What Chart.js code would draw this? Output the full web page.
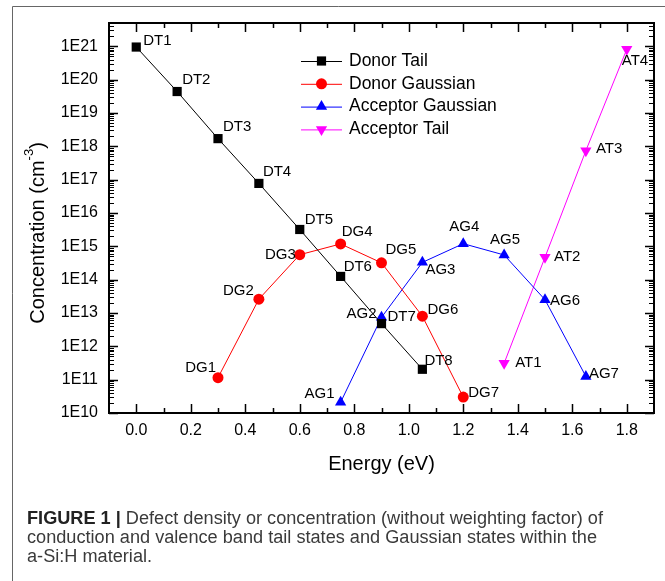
<!DOCTYPE html>
<html>
<head>
<meta charset="utf-8">
<title>Defect density</title>
<script src="https://cdn.jsdelivr.net/npm/chart.js@4.4.0/dist/chart.umd.min.js"></script>
<style>
  html, body { margin: 0; padding: 0; background: #fff; }
  #wrap { width: 665px; height: 581px; }
</style>
</head>
<body>
<div id="wrap"><canvas id="chart" width="665" height="581"></canvas></div>
<script>
// Energy positions (eV) and concentrations (cm^-3) for each state family
const donorTailEnergy = [0, 0.15, 0.3, 0.45, 0.6, 0.75, 0.9, 1.05];
const donorTail = [9.5e20, 4.4e19, 1.7e18, 7.7e16, 3.2e15, 1.25e14, 4.8e12, 2.05e11];
const donorTailLabels = ['DT1', 'DT2', 'DT3', 'DT4', 'DT5', 'DT6', 'DT7', 'DT8'];

const donorGaussEnergy = [0.3, 0.45, 0.6, 0.75, 0.9, 1.05, 1.2];
const donorGauss = [1.15e11, 2.6e13, 5.6e14, 1.18e15, 3.2e14, 8e12, 3e10];
const donorGaussLabels = ['DG1', 'DG2', 'DG3', 'DG4', 'DG5', 'DG6', 'DG7'];

const acceptorGaussEnergy = [0.75, 0.9, 1.05, 1.2, 1.35, 1.5, 1.65];
const acceptorGauss = [2.1e10, 7.4e12, 3.3e14, 1.2e15, 5.5e14, 2.5e13, 1.25e11];
const acceptorGaussLabels = ['AG1', 'AG2', 'AG3', 'AG4', 'AG5', 'AG6', 'AG7'];

const acceptorTailEnergy = [1.35, 1.5, 1.65, 1.8];
const acceptorTail = [3.1e11, 4.7e14, 7.4e17, 8.1e20];
const acceptorTailLabels = ['AT1', 'AT2', 'AT3', 'AT4'];

const seriesNames = ['Donor Tail', 'Donor Gaussian', 'Acceptor Gaussian', 'Acceptor Tail'];

const xTickValues = [0, 0.2, 0.4, 0.6, 0.8, 1.0, 1.2, 1.4, 1.6, 1.8];
const xTickLabels = ['0.0', '0.2', '0.4', '0.6', '0.8', '1.0', '1.2', '1.4', '1.6', '1.8'];
const xMinorValues = [0.1, 0.3, 0.5, 0.7, 0.9, 1.1, 1.3, 1.5, 1.7];
const yTickValues = [1e10, 1e11, 1e12, 1e13, 1e14, 1e15, 1e16, 1e17, 1e18, 1e19, 1e20, 1e21];
const yTickLabels = ['1E10', '1E11', '1E12', '1E13', '1E14', '1E15', '1E16', '1E17', '1E18', '1E19', '1E20', '1E21'];

// label offsets from the marker centre: [dx, dy, textAlign]
const labelPlacement = [
  [[7, -6, 'left'], [5, -12, 'left'], [5, -12, 'left'], [4, -12, 'left'], [5, -10, 'left'], [3, -10, 'left'], [6, -7, 'left'], [2, -8, 'left']],
  [[-2, -10, 'right'], [-5, -8, 'right'], [-4, 0, 'right'], [1, -12, 'left'], [4, -13, 'left'], [5, -6, 'left'], [5, -4, 'left']],
  [[-6, -8, 'right'], [-5, -3, 'right'], [3, 7, 'left'], [1, -17, 'center'], [1, -15, 'center'], [5, 1, 'left'], [3, -3, 'left']],
  [[11, 0, 'left'], [9, 0, 'left'], [10, -2, 'left'], [-5, 12, 'left']]
];
const pointLabels = [donorTailLabels, donorGaussLabels, acceptorGaussLabels, acceptorTailLabels];

const FONT = '"Liberation Sans", Arial, Helvetica, sans-serif';

function toPoints(xs, ys) {
  return xs.map((x, i) => ({ x, y: ys[i] }));
}

function series(label, xs, ys, color, style, rotation, radius) {
  return {
    label,
    data: toPoints(xs, ys),
    borderColor: color,
    backgroundColor: color,
    borderWidth: 1,
    pointStyle: style,
    pointRotation: rotation,
    pointRadius: radius,
    pointBorderWidth: 0,
    tension: 0,
    clip: false
  };
}

function drawMarker(ctx, ds, x, y) {
  const r = ds.pointRadius;
  ctx.save();
  ctx.fillStyle = ds.backgroundColor;
  ctx.beginPath();
  if (ds.pointStyle === 'rect') {
    const s = r * Math.SQRT1_2;
    ctx.rect(x - s, y - s, 2 * s, 2 * s);
  } else if (ds.pointStyle === 'circle') {
    ctx.arc(x, y, r, 0, Math.PI * 2);
  } else {
    let a = (ds.pointRotation || 0) * Math.PI / 180;
    for (let k = 0; k < 3; k++) {
      const px = x + Math.sin(a) * r;
      const py = y - Math.cos(a) * r;
      if (k === 0) ctx.moveTo(px, py); else ctx.lineTo(px, py);
      a += 2 * Math.PI / 3;
    }
    ctx.closePath();
  }
  ctx.fill();
  ctx.restore();
}

const decor = {
  id: 'decor',
  afterDatasetsDraw(chart) {
    const ctx = chart.ctx;
    ctx.save();
    ctx.font = '15px ' + FONT;
    ctx.fillStyle = '#000';
    ctx.textBaseline = 'middle';
    chart.data.datasets.forEach((ds, di) => {
      const meta = chart.getDatasetMeta(di);
      meta.data.forEach((pt, i) => {
        const [dx, dy, align] = labelPlacement[di][i];
        ctx.textAlign = align;
        ctx.fillText(pointLabels[di][i], pt.x + dx, pt.y + dy);
      });
    });
    ctx.restore();
  },
  afterDraw(chart) {
    const ctx = chart.ctx;
    const xs = chart.scales.x;
    const ys = chart.scales.y;
    const { left, right, top, bottom } = chart.chartArea;

    ctx.save();
    // outer figure frame
    ctx.strokeStyle = '#666';
    ctx.lineWidth = 1;
    ctx.beginPath();
    ctx.moveTo(12.5, 581);
    ctx.lineTo(12.5, 6.5);
    ctx.lineTo(665, 6.5);
    ctx.stroke();

    // inward ticks on all four sides
    ctx.strokeStyle = '#000';
    ctx.lineWidth = 1.5;
    ctx.beginPath();
    const major = 9, minor = 5;
    xTickValues.forEach((v) => {
      const px = Math.round(xs.getPixelForValue(v)) + 0.5;
      ctx.moveTo(px, bottom); ctx.lineTo(px, bottom - major);
      ctx.moveTo(px, top); ctx.lineTo(px, top + major);
    });
    xMinorValues.forEach((v) => {
      const px = Math.round(xs.getPixelForValue(v)) + 0.5;
      ctx.moveTo(px, bottom); ctx.lineTo(px, bottom - minor);
      ctx.moveTo(px, top); ctx.lineTo(px, top + minor);
    });
    yTickValues.forEach((v) => {
      const py = Math.round(ys.getPixelForValue(v)) + 0.5;
      ctx.moveTo(left, py); ctx.lineTo(left + major, py);
      ctx.moveTo(right, py); ctx.lineTo(right - major, py);
    });
    ctx.stroke();
    ctx.lineWidth = 1;
    ctx.beginPath();
    yTickValues.forEach((v) => {
      for (let m = 2; m <= 9; m++) {
        const val = v * m;
        if (val >= ys.max) continue;
        const py = Math.round(ys.getPixelForValue(val)) + 0.5;
        ctx.moveTo(left, py); ctx.lineTo(left + minor, py);
        ctx.moveTo(right, py); ctx.lineTo(right - minor, py);
      }
    });
    ctx.stroke();

    // plot frame
    ctx.lineWidth = 2;
    ctx.strokeRect(left, top, right - left, bottom - top);

    // tick labels
    ctx.fillStyle = '#000';
    ctx.font = '16px ' + FONT;
    ctx.textBaseline = 'middle';
    ctx.textAlign = 'center';
    xTickValues.forEach((v, i) => ctx.fillText(xTickLabels[i], xs.getPixelForValue(v), bottom + 18));
    ctx.textAlign = 'right';
    yTickValues.forEach((v, i) => ctx.fillText(yTickLabels[i], left - 11, ys.getPixelForValue(v)));

    // axis titles
    ctx.font = '20px ' + FONT;
    ctx.textAlign = 'center';
    ctx.fillText('Energy (eV)', (left + right) / 2, bottom + 51);

    ctx.save();
    ctx.translate(38, 233);
    ctx.rotate(-Math.PI / 2);
    const main = 'Concentration (cm';
    ctx.font = '20px ' + FONT;
    const wMain = ctx.measureText(main).width;
    const wClose = ctx.measureText(')').width;
    ctx.font = '13px ' + FONT;
    const wSup = ctx.measureText('-3').width;
    const start = -(wMain + wSup + wClose) / 2;
    ctx.textAlign = 'left';
    ctx.font = '20px ' + FONT;
    ctx.fillText(main, start, 0);
    ctx.fillText(')', start + wMain + wSup, 0);
    ctx.font = '13px ' + FONT;
    ctx.fillText('-3', start + wMain, -9);
    ctx.restore();

    // legend
    ctx.font = '17.5px ' + FONT;
    ctx.textAlign = 'left';
    chart.data.datasets.forEach((ds, i) => {
      const ly = 61 + i * 22.8;
      ctx.strokeStyle = ds.borderColor;
      ctx.lineWidth = 1;
      ctx.beginPath();
      ctx.moveTo(301, ly + 0.5);
      ctx.lineTo(342, ly + 0.5);
      ctx.stroke();
      drawMarker(ctx, ds, 321.5, ly);
      ctx.fillStyle = '#000';
      ctx.fillText(ds.label, 349, ly);
    });

    // caption
    const captionLines = [
      [['bold', 'FIGURE 1 | '], ['normal', 'Defect density or concentration (without weighting factor) of']],
      [['normal', 'conduction and valence band tail states and Gaussian states within the']],
      [['normal', 'a-Si:H material.']]
    ];
    const capFont = (w) => (w === 'bold' ? 'bold ' : '') + '18px ' + FONT;
    let firstWidth = 0;
    captionLines[0].forEach(([w, t]) => { ctx.font = capFont(w); firstWidth += ctx.measureText(t).width; });
    const sx = 576 / firstWidth;
    ctx.textBaseline = 'alphabetic';
    captionLines.forEach((segs, li) => {
      ctx.save();
      ctx.translate(27, 524 + li * 19);
      ctx.scale(sx, 1);
      let cx = 0;
      segs.forEach(([w, t]) => {
        ctx.font = capFont(w);
        ctx.fillStyle = w === 'bold' ? '#222' : '#3a3a3a';
        ctx.fillText(t, cx, 0);
        cx += ctx.measureText(t).width;
      });
      ctx.restore();
    });
    ctx.restore();
  }
};

new Chart(document.getElementById('chart'), {
  type: 'line',
  data: {
    datasets: [
      series(seriesNames[0], donorTailEnergy, donorTail, '#000000', 'rect', 0, 6.5),
      series(seriesNames[1], donorGaussEnergy, donorGauss, '#ff0000', 'circle', 0, 5.5),
      series(seriesNames[2], acceptorGaussEnergy, acceptorGauss, '#0000ff', 'triangle', 0, 6.5),
      series(seriesNames[3], acceptorTailEnergy, acceptorTail, '#ff00ff', 'triangle', 180, 6.5)
    ]
  },
  options: {
    responsive: false,
    devicePixelRatio: 1,
    animation: false,
    events: [],
    layout: { padding: { left: 109, top: 23, right: 11, bottom: 168 } },
    scales: {
      x: { type: 'linear', min: -0.1, max: 1.9, display: false },
      y: { type: 'logarithmic', min: 1e10, max: 5e21, display: false }
    },
    plugins: {
      legend: { display: false },
      tooltip: { enabled: false }
    }
  },
  plugins: [decor]
});
</script>
</body>
</html>
